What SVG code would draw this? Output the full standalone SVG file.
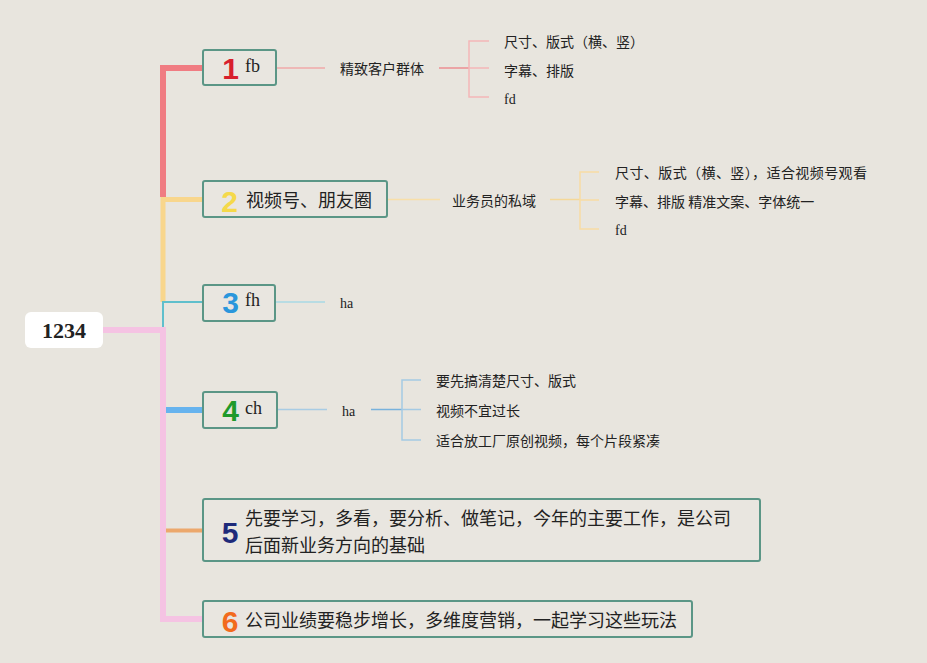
<svg xmlns="http://www.w3.org/2000/svg" width="927" height="663" viewBox="0 0 927 663">
<style>
.bg{fill:#e8e5de}
.node rect{fill:#e9e6e0;stroke:#5b9686;stroke-width:2}
.zh{font-family:"Noto Sans CJK SC","Noto Sans",sans-serif;fill:#222}
.lat{font-family:"Liberation Serif",serif;fill:#222}
.num{font-family:"Liberation Sans",Arial,sans-serif;font-weight:bold;font-size:30px;text-anchor:middle}
.trunk{fill:none;stroke-linecap:butt;stroke-linejoin:miter}
.sub{fill:none;stroke-width:1.5}
</style>
<rect class="bg" x="0" y="0" width="927" height="663"/>

<g id="connectors">
  <path class="trunk" d="M203,68 H163 V197" stroke="#f07c82" stroke-width="6"/>
  <path class="trunk" d="M203,199.5 H163 V302" stroke="#f8d68c" stroke-width="5"/>
  <path class="trunk" d="M203,302 H163 V328" stroke="#5fbfcc" stroke-width="2"/>
  <path class="trunk" d="M103,330 H163 V619 H203" stroke="#f5c3e3" stroke-width="6"/>
  <path class="trunk" d="M166,410 H203" stroke="#66b3ee" stroke-width="6"/>
  <path class="trunk" d="M166,530.5 H203" stroke="#eca86c" stroke-width="4"/>
  <path class="sub" d="M277,68 H325" stroke="#f0a8a8"/>
  <path class="sub" d="M439,68 H469" stroke="#ec8e92" stroke-width="2"/>
  <path class="sub" d="M489,41 H469 V97 H489 M469,68 H489" stroke="#f4b6b8"/>
  <path class="sub" d="M388,199.5 H440" stroke="#f8dfa8"/>
  <path class="sub" d="M550,199.5 H580" stroke="#f5d898"/>
  <path class="sub" d="M599,172 H580 V229 H599 M580,200 H599" stroke="#f8dca4"/>
  <path class="sub" d="M276,302 H325" stroke="#a8d8e4"/>
  <path class="sub" d="M278,409.5 H327" stroke="#a8cce4"/>
  <path class="sub" d="M371,409.5 H402" stroke="#78b2dc" stroke-width="2"/>
  <path class="sub" d="M421,380 H402 V440 H421 M402,409.5 H421" stroke="#a4cae4"/>
</g>

<g id="root">
  <rect x="25" y="312" width="78" height="36" rx="6" fill="#ffffff"/>
  <text x="64" y="338" class="lat" font-size="22" font-weight="bold" text-anchor="middle" fill="#111">1234</text>
</g>

<g id="node1" class="node">
  <rect x="203" y="50" width="73" height="35" rx="2"/>
  <text x="230.5" y="79" class="num" fill="#d81f2d">1</text>
  <text x="245" y="72" class="lat" font-size="18">fb</text>
</g>
<g id="node1-1">
  <text x="340" y="74" class="zh" font-size="14">精致客户群体</text>
</g>
<g id="node1-1-items">
  <text x="504" y="47" class="zh" font-size="14">尺寸、版式（横、竖）</text>
  <text x="504" y="76" class="zh" font-size="14">字幕、排版</text>
  <text x="504" y="104" class="lat" font-size="14">fd</text>
</g>

<g id="node2" class="node">
  <rect x="203" y="181" width="184" height="36" rx="2"/>
  <text x="229.5" y="212" class="num" fill="#f5d94a">2</text>
  <text x="246" y="207" class="zh" font-size="18">视频号、朋友圈</text>
</g>
<g id="node2-1">
  <text x="452" y="206" class="zh" font-size="14">业务员的私域</text>
</g>
<g id="node2-1-items">
  <text x="615" y="178" class="zh" font-size="14" textLength="252" lengthAdjust="spacing">尺寸、版式（横、竖），适合视频号观看</text>
  <text x="615" y="207" class="zh" font-size="14">字幕、排版 精准文案、字体统一</text>
  <text x="615" y="235" class="lat" font-size="14">fd</text>
</g>

<g id="node3" class="node">
  <rect x="203" y="285" width="72" height="36" rx="2"/>
  <text x="230.5" y="313" class="num" fill="#2a96dc">3</text>
  <text x="245" y="306" class="lat" font-size="18">fh</text>
</g>
<g id="node3-1">
  <text x="340" y="308" class="lat" font-size="14">ha</text>
</g>

<g id="node4" class="node">
  <rect x="203" y="392" width="74" height="36" rx="2"/>
  <text x="230.5" y="421" class="num" fill="#1f9a2b">4</text>
  <text x="245" y="414" class="lat" font-size="18">ch</text>
</g>
<g id="node4-1">
  <text x="342" y="416" class="lat" font-size="14">ha</text>
</g>
<g id="node4-1-items">
  <text x="436" y="386" class="zh" font-size="14">要先搞清楚尺寸、版式</text>
  <text x="436" y="416" class="zh" font-size="14">视频不宜过长</text>
  <text x="436" y="446" class="zh" font-size="14">适合放工厂原创视频，每个片段紧凑</text>
</g>

<g id="node5" class="node">
  <rect x="203" y="499" width="557" height="62" rx="2"/>
  <text x="230" y="543" class="num" fill="#1e2a7a">5</text>
  <text x="245" y="525" class="zh" font-size="18">先要学习，多看，要分析、做笔记，今年的主要工作，是公司</text>
  <text x="245" y="552" class="zh" font-size="18">后面新业务方向的基础</text>
</g>

<g id="node6" class="node">
  <rect x="203" y="601" width="489" height="36" rx="2"/>
  <text x="230" y="632" class="num" fill="#f26b1d">6</text>
  <text x="245" y="627" class="zh" font-size="18">公司业绩要稳步增长，多维度营销，一起学习这些玩法</text>
</g>
</svg>
